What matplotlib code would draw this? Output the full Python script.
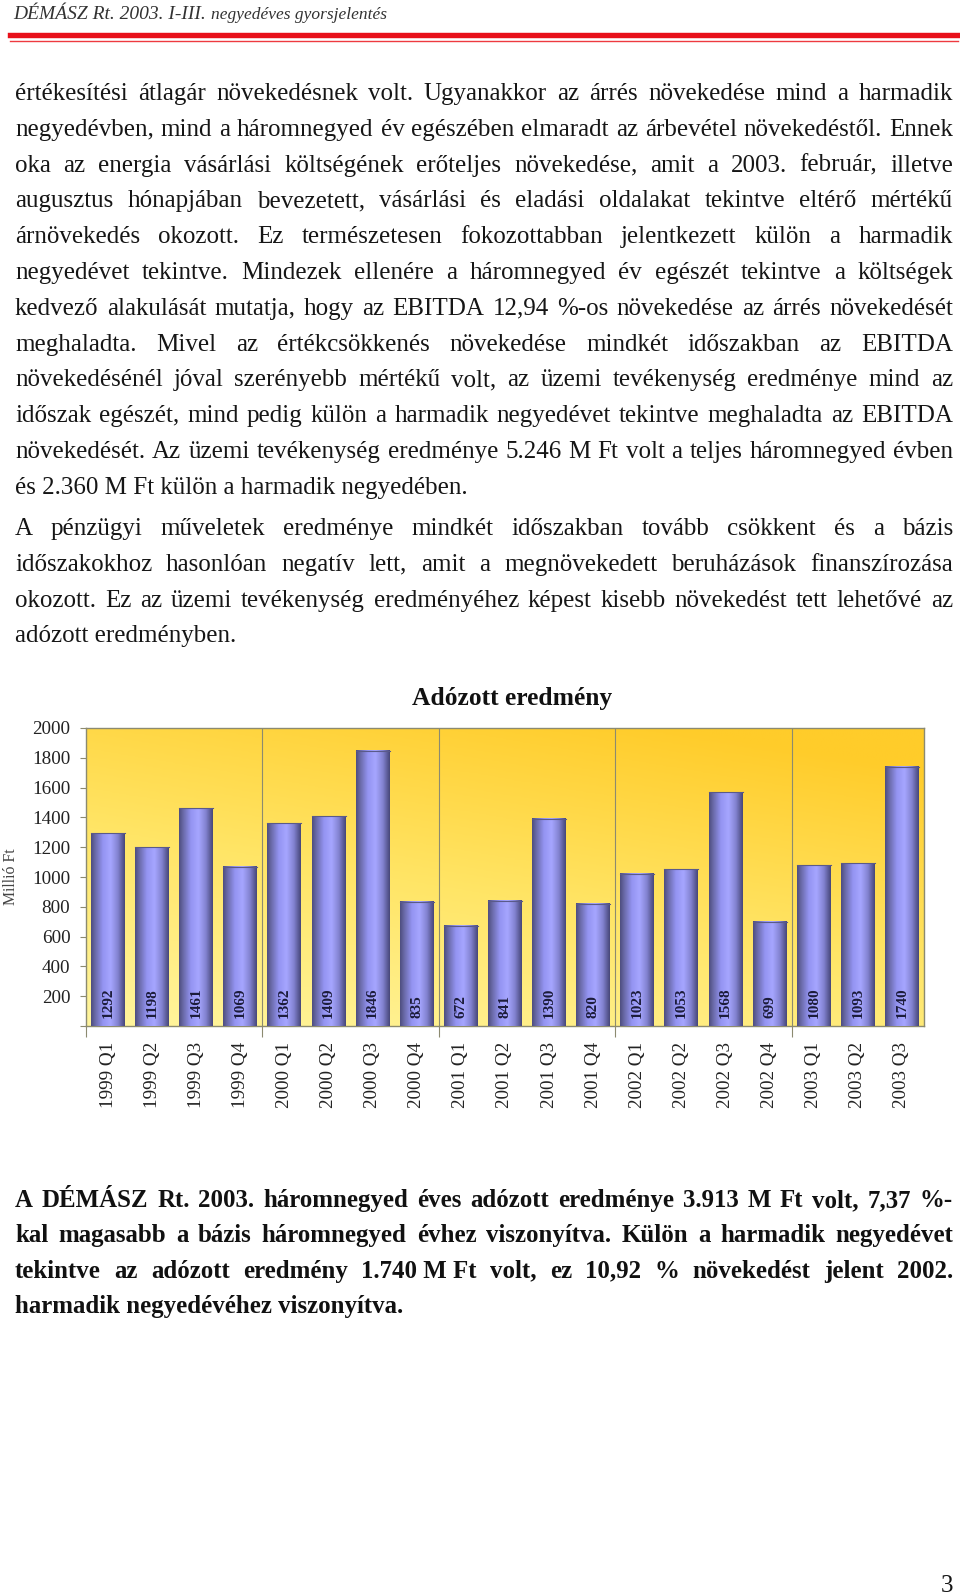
import matplotlib
matplotlib.use("Agg")
import matplotlib.pyplot as plt
import numpy as np
from matplotlib.colors import LinearSegmentedColormap
from matplotlib.lines import Line2D

# ----- DATA -----
quarters = ["1999 Q1", "1999 Q2", "1999 Q3", "1999 Q4",
            "2000 Q1", "2000 Q2", "2000 Q3", "2000 Q4",
            "2001 Q1", "2001 Q2", "2001 Q3", "2001 Q4",
            "2002 Q1", "2002 Q2", "2002 Q3", "2002 Q4",
            "2003 Q1", "2003 Q2", "2003 Q3"]
profit = [1292, 1198, 1461, 1069, 1362, 1409, 1846, 835, 672, 841,
          1390, 820, 1023, 1053, 1568, 699, 1080, 1093, 1740]
yticks = list(range(0, 2001, 200))
year_edges = [-0.5, 3.5, 7.5, 11.5, 15.5]

header_a = "DÉMÁSZ Rt. 2003. I-III."
header_b = "negyedéves gyorsjelentés"

para1 = [
    "értékesítési átlagár növekedésnek volt. Ugyanakkor az árrés növekedése mind a harmadik",
    "negyedévben, mind a háromnegyed év egészében elmaradt az árbevétel növekedéstől. Ennek",
    "oka az energia vásárlási költségének erőteljes növekedése, amit a 2003. február, illetve",
    "augusztus hónapjában bevezetett, vásárlási és eladási oldalakat tekintve eltérő mértékű",
    "árnövekedés okozott. Ez természetesen fokozottabban jelentkezett külön a harmadik",
    "negyedévet tekintve. Mindezek ellenére a háromnegyed év egészét tekintve a költségek",
    "kedvező alakulását mutatja, hogy az EBITDA 12,94 %-os növekedése az árrés növekedését",
    "meghaladta. Mivel az értékcsökkenés növekedése mindkét időszakban az EBITDA",
    "növekedésénél jóval szerényebb mértékű volt, az üzemi tevékenység eredménye mind az",
    "időszak egészét, mind pedig külön a harmadik negyedévet tekintve meghaladta az EBITDA",
    "növekedését. Az üzemi tevékenység eredménye 5.246 M Ft volt a teljes háromnegyed évben",
    "és 2.360 M Ft külön a harmadik negyedében.",
]
para2 = [
    "A pénzügyi műveletek eredménye mindkét időszakban tovább csökkent és a bázis",
    "időszakokhoz hasonlóan negatív lett, amit a megnövekedett beruházások finanszírozása",
    "okozott. Ez az üzemi tevékenység eredményéhez képest kisebb növekedést tett lehetővé az",
    "adózott eredményben.",
]
para3 = [
    "A DÉMÁSZ Rt. 2003. háromnegyed éves adózott eredménye 3.913 M Ft volt, 7,37 %-",
    "kal magasabb a bázis háromnegyed évhez viszonyítva. Külön a harmadik negyedévet",
    "tekintve az adózott eredmény 1.740\u00a0M\u00a0Ft volt, ez 10,92 % növekedést jelent 2002.",
    "harmadik negyedévéhez viszonyítva.",
]

# ----- PAGE SETUP -----
W, H = 960, 1595
SERIF = "Liberation Serif"
fig = plt.figure(figsize=(W / 100, H / 100), dpi=100)
fig.patch.set_facecolor("white")
r = fig.canvas.get_renderer()


def fx(x):
    return x / W


def fy(y):
    return 1 - y / H


def width(s, **kw):
    t = fig.text(0, 0, s, **kw)
    w = t.get_window_extent(r).width
    t.remove()
    return w


def fit(s, target, **kw):
    return 20 * target / width(s, fontsize=20, **kw)


def line(s, y, x0=15, x1=953, justify=True, **kw):
    words = s.split(" ")
    if not justify or len(words) == 1:
        fig.text(fx(x0), fy(y), s, va="baseline", **kw)
        return
    ws = [width(w, **kw) for w in words]
    gap = (x1 - x0 - sum(ws)) / (len(words) - 1)
    x = x0
    for w, wd in zip(words, ws):
        fig.text(fx(x), fy(y), w, va="baseline", **kw)
        x += wd + gap


# header
hcol = "#333333"
hdr_a = dict(family=SERIF, style="italic", fontsize=14, color=hcol)
fig.text(fx(13), fy(19), header_a, va="baseline", **hdr_a)
xb = 13 + width(header_a + " ", **hdr_a)
fig.text(fx(xb), fy(19), header_b, va="baseline",
         family=SERIF, style="italic", fontsize=12.5, color=hcol)
fig.add_artist(Line2D([fx(10), fx(958)], [fy(35), fy(35)], color="#e8101a", lw=3.9))
fig.add_artist(Line2D([fx(10), fx(958)], [fy(40.5), fy(40.5)], color="#ee3a40", lw=1.0))

# body text
body = dict(family=SERIF, color="#161616")
fs_body = fit(para1[-1], 453, **body)
body["fontsize"] = fs_body
for i, s in enumerate(para1):
    line(s, 100 + 35.8 * i, justify=(i < len(para1) - 1), **body)
for i, s in enumerate(para2):
    line(s, 535 + 35.8 * i, justify=(i < len(para2) - 1), **body)

bold = dict(family=SERIF, weight="bold", color="#111111")
bold["fontsize"] = fit(para3[-1], 388, family=SERIF, weight="bold")
for i, s in enumerate(para3):
    line(s, 1207 + 35.3 * i, justify=(i < len(para3) - 1), **bold)

fig.text(fx(953), fy(1592), "3", ha="right", va="baseline", **body)

# ----- CHART -----
ax = fig.add_axes([fx(86), fy(1026), (924 - 86) / W, (1026 - 728) / H])
n = len(profit)
x = np.arange(n)

# background gradient
bg_cmap = LinearSegmentedColormap.from_list("bg", ["#fff59e", "#ffe566", "#ffcc2a"])
gx, gy = np.meshgrid(np.linspace(0, 1, 200), np.linspace(0, 1, 200))
grad = np.clip(0.75 * (1 - gy) + 0.35 * gx, 0, 1)
ax.imshow(grad, extent=(-0.5, n - 0.5, 0, 2000), aspect="auto", cmap=bg_cmap,
          origin="upper", zorder=0, interpolation="bilinear")

# bars with cylinder shading
bar_cmap = LinearSegmentedColormap.from_list(
    "bar", [(0.0, "#4e4e80"), (0.12, "#6a6aa8"), (0.35, "#9494f2"),
            (0.58, "#a6a6ff"), (0.8, "#8282d0"), (1.0, "#48487a")])
bars = ax.bar(x, profit, width=0.77, color="#9999ff", zorder=2, edgecolor="none")
shade = np.linspace(0, 1, 64).reshape(1, -1)
for b in bars:
    ax.imshow(shade, extent=(b.get_x(), b.get_x() + b.get_width(), 0, b.get_height()),
              aspect="auto", cmap=bar_cmap, zorder=3, interpolation="bilinear")
    ax.plot([b.get_x(), b.get_x() + b.get_width()], [b.get_height()] * 2,
            color="#5a5a8a", lw=0.8, zorder=4)

for i, v in enumerate(profit):
    ax.annotate(str(v), (i, 0), xytext=(0, 6), textcoords="offset points",
                rotation=90, ha="center", va="bottom", family=SERIF,
                weight="bold", fontsize=11, color="#1c1c3a", zorder=5)

for e in year_edges[1:]:
    ax.axvline(e, color="#8c8a70", lw=0.8, zorder=1)

ax.set_xlim(-0.5, n - 0.5)
ax.set_ylim(0, 2000)

for sp in ax.spines.values():
    sp.set_color("#8c8a70")
    sp.set_linewidth(1.0)

ax.set_yticks(yticks)
ax.set_yticklabels(["" if t == 0 else str(t) for t in yticks])
fs_tick = fit("2000", 38, family=SERIF)
ax.tick_params(axis="y", length=4.3, width=0.8, color="#8c8a70", pad=7,
               labelsize=fs_tick, labelcolor="#222222")
for lab in ax.get_yticklabels():
    lab.set_family(SERIF)

ax.set_xticks(x)
ax.set_xticklabels(quarters, rotation=90, family=SERIF)
fs_q = fit("1999 Q1", 66, family=SERIF)
ax.tick_params(axis="x", which="major", length=0, pad=11.5,
               labelsize=fs_q, labelcolor="#222222")
ax.set_xticks(year_edges, minor=True)
ax.tick_params(axis="x", which="minor", length=8, width=0.8, color="#8c8a70")

fs_title = fit("Adózott eredmény", 200, family=SERIF, weight="bold")
fig.text(fx(512), fy(705), "Adózott eredmény", ha="center", va="baseline",
         family=SERIF, weight="bold", fontsize=fs_title, color="#111111")

fs_yl = fit("Millió Ft", 57, family=SERIF)
fig.text(fx(11), fy(877), "Millió Ft", rotation=90, ha="center", va="center",
         family=SERIF, fontsize=fs_yl, color="#444444")

fig.savefig("out.png", dpi=100)
